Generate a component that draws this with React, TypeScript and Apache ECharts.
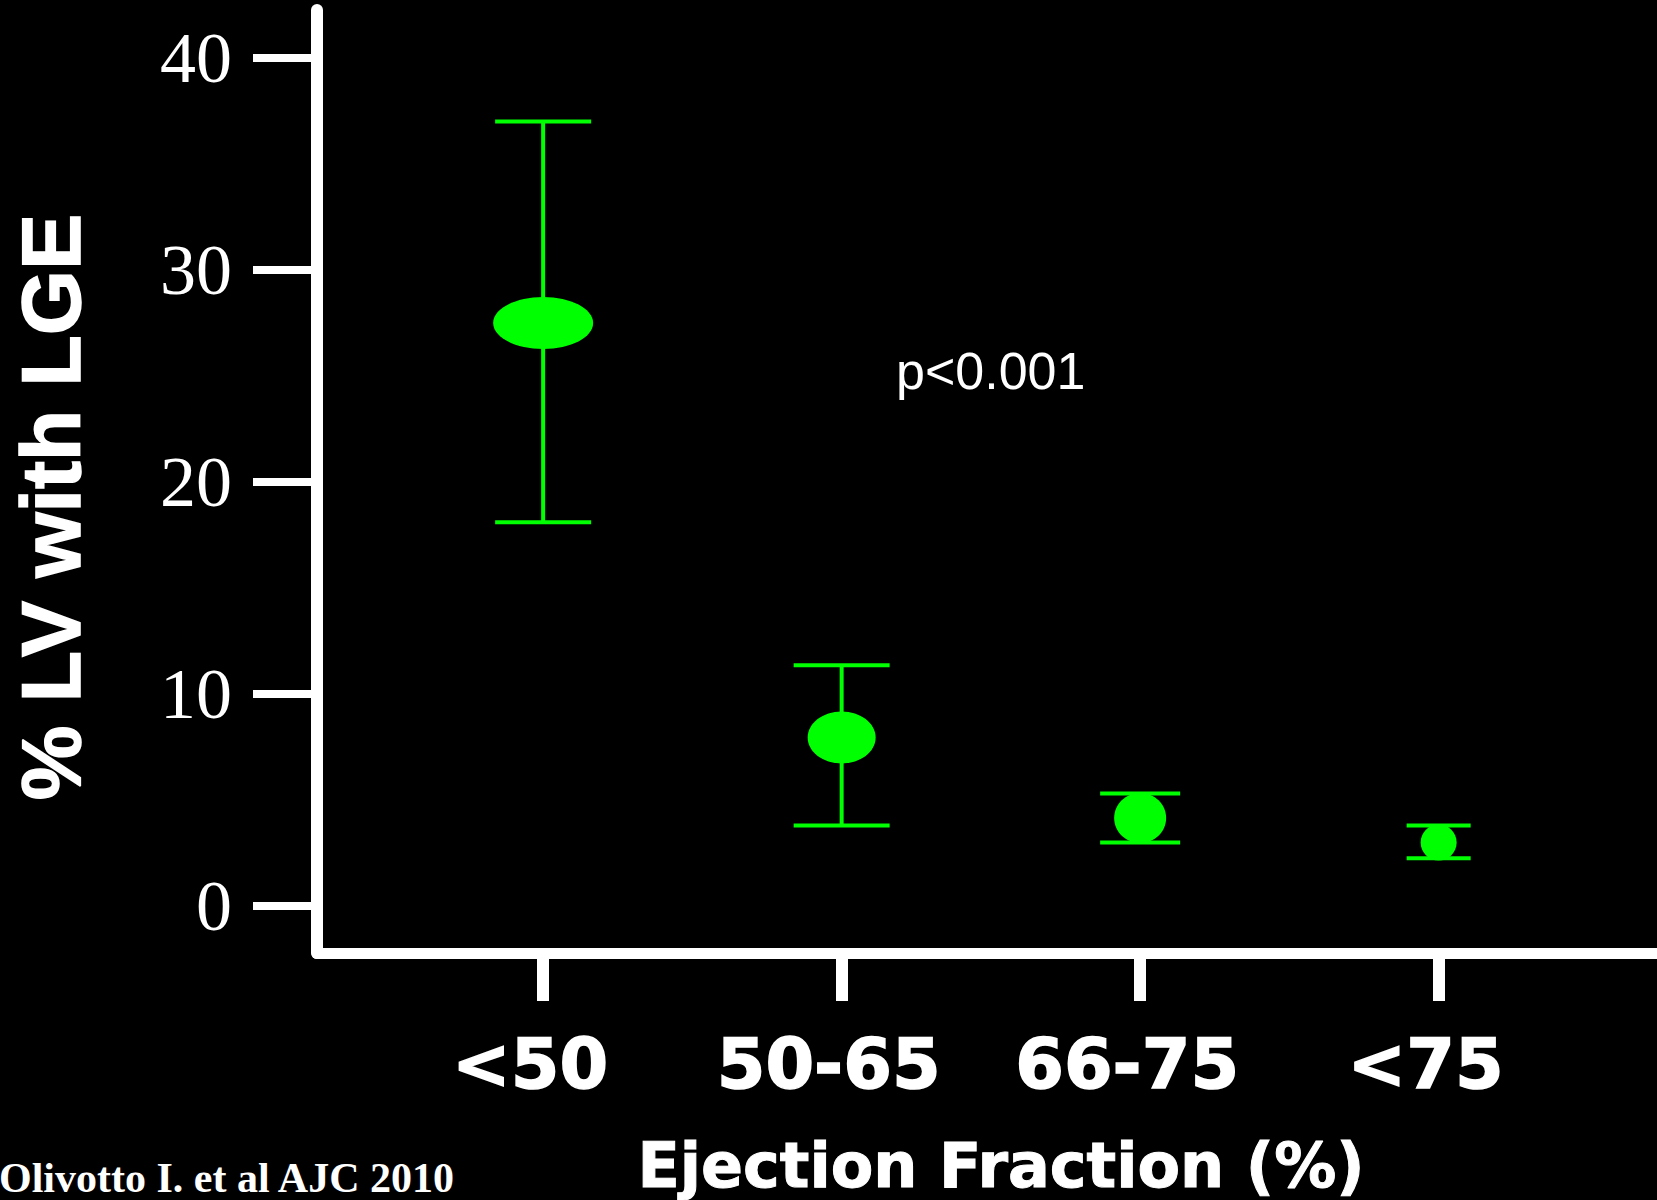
import React, { useEffect, useRef } from "react";
import * as echarts from "echarts";

// ---- data ----
const categories = ["<50", "50-65", "66-75", "<75"];
const meanValues = [27.5, 7.95, 4.15, 3.0];
const lowerValues = [18.1, 3.8, 3.0, 2.25];
const upperValues = [37.0, 11.35, 5.3, 3.8];
const yTickValues = [0, 10, 20, 30, 40];
const xTickValues = [0, 1, 2, 3];

// ---- texts ----
const yTitle = "% LV with LGE";
const xTitle = "Ejection Fraction (%)";
const pValueText = "p<0.001";
const sourceText = "Olivotto I. et al AJC 2010";

// ---- marker styles (per point) ----
const markerRadiusX = [50, 34, 26, 18];
const markerRadiusY = [26, 26, 25, 18];
const capHalfWidth = [48, 48, 40, 32];

const GREEN = "#00ff00";
const WHITE = "#ffffff";

export default function App() {
  const ref = useRef<HTMLDivElement | null>(null);

  useEffect(() => {
    if (!ref.current) return;
    const chart = echarts.init(ref.current, null, { renderer: "svg" });

    const seriesData = categories.map((_, i) => [i, meanValues[i], lowerValues[i], upperValues[i]]);

    const option: any = {
      animation: false,
      backgroundColor: "#000000",
      grid: {
        left: 317,
        top: 10,
        right: 0,
        bottom: 247,
        containLabel: false,
        outerBoundsMode: "none",
      },
      xAxis: {
        type: "value",
        min: -0.7576,
        max: 3.7315,
        splitLine: { show: false },
        axisLine: { show: true, onZero: false, lineStyle: { color: WHITE, width: 11 } },
        axisTick: {
          show: true,
          customValues: xTickValues,
          length: 48,
          lineStyle: { color: WHITE, width: 12 },
        },
        axisLabel: {
          show: true,
          customValues: xTickValues,
          formatter: (v: number) => categories[Math.round(v)] ?? "",
          color: WHITE,
          fontFamily: "DejaVu Sans",
          fontWeight: "bold",
          fontSize: 70,
          textBorderColor: WHITE,
          textBorderWidth: 1.5,
          margin: 76,
          padding: [0, 26, 0, 0],
        },
      },
      yAxis: {
        type: "value",
        min: -2.217,
        max: 42.26,
        splitLine: { show: false },
        axisLine: { show: true, onZero: false, lineStyle: { color: WHITE, width: 12 } },
        axisTick: {
          show: true,
          customValues: yTickValues,
          length: 64,
          lineStyle: { color: WHITE, width: 8 },
        },
        axisLabel: {
          show: true,
          customValues: yTickValues,
          color: WHITE,
          fontFamily: "Liberation Serif",
          fontSize: 72,
          margin: 85,
          padding: [0, 0, 9, 0],
        },
      },
      series: [
        {
          type: "custom",
          clip: false,
          z: 10,
          encode: { x: 0, y: [1, 2, 3] },
          data: seriesData,
          renderItem: (params: any, api: any) => {
            const i = params.dataIndex;
            const mid = api.coord([api.value(0), api.value(1)]);
            const lo = api.coord([api.value(0), api.value(2)]);
            const hi = api.coord([api.value(0), api.value(3)]);
            const cx = mid[0];
            const hw = capHalfWidth[i];
            const lineStyle = { stroke: GREEN, lineWidth: 4 };
            return {
              type: "group",
              children: [
                { type: "line", shape: { x1: cx, y1: hi[1], x2: cx, y2: lo[1] }, style: lineStyle },
                { type: "line", shape: { x1: cx - hw, y1: hi[1], x2: cx + hw, y2: hi[1] }, style: lineStyle },
                { type: "line", shape: { x1: cx - hw, y1: lo[1], x2: cx + hw, y2: lo[1] }, style: lineStyle },
                {
                  type: "ellipse",
                  shape: { cx, cy: mid[1], rx: markerRadiusX[i], ry: markerRadiusY[i] },
                  style: { fill: GREEN },
                },
              ],
            };
          },
        },
      ],
      graphic: [
        {
          type: "text",
          x: 51,
          y: 507,
          rotation: Math.PI / 2,
          style: {
            text: yTitle,
            fill: WHITE,
            font: "bold 84px 'Liberation Sans', Arial, sans-serif",
            stroke: WHITE,
            lineWidth: 1.5,
            align: "center",
            verticalAlign: "middle",
          },
        },
        {
          type: "text",
          x: 1001,
          y: 1165,
          style: {
            text: xTitle,
            fill: WHITE,
            font: "bold 62px 'DejaVu Sans', sans-serif",
            stroke: WHITE,
            lineWidth: 1,
            align: "center",
            verticalAlign: "middle",
            lineHeight: 62,
          },
        },
        {
          type: "text",
          x: 896,
          y: 371,
          style: {
            text: pValueText,
            fill: WHITE,
            font: "52px 'Liberation Sans', Arial, sans-serif",
            align: "left",
            verticalAlign: "middle",
          },
        },
        {
          type: "text",
          x: -1,
          y: 1178,
          style: {
            text: sourceText,
            fill: WHITE,
            font: "bold 42px 'Liberation Serif', 'Times New Roman', serif",
            align: "left",
            verticalAlign: "middle",
          },
        },
      ],
    };

    chart.setOption(option);
    return () => {
      chart.dispose();
    };
  }, []);

  return (
    <div
      ref={ref}
      style={{
        position: "fixed",
        left: 0,
        top: 0,
        width: "1657px",
        height: "1200px",
        background: "#000000",
      }}
    />
  );
}
